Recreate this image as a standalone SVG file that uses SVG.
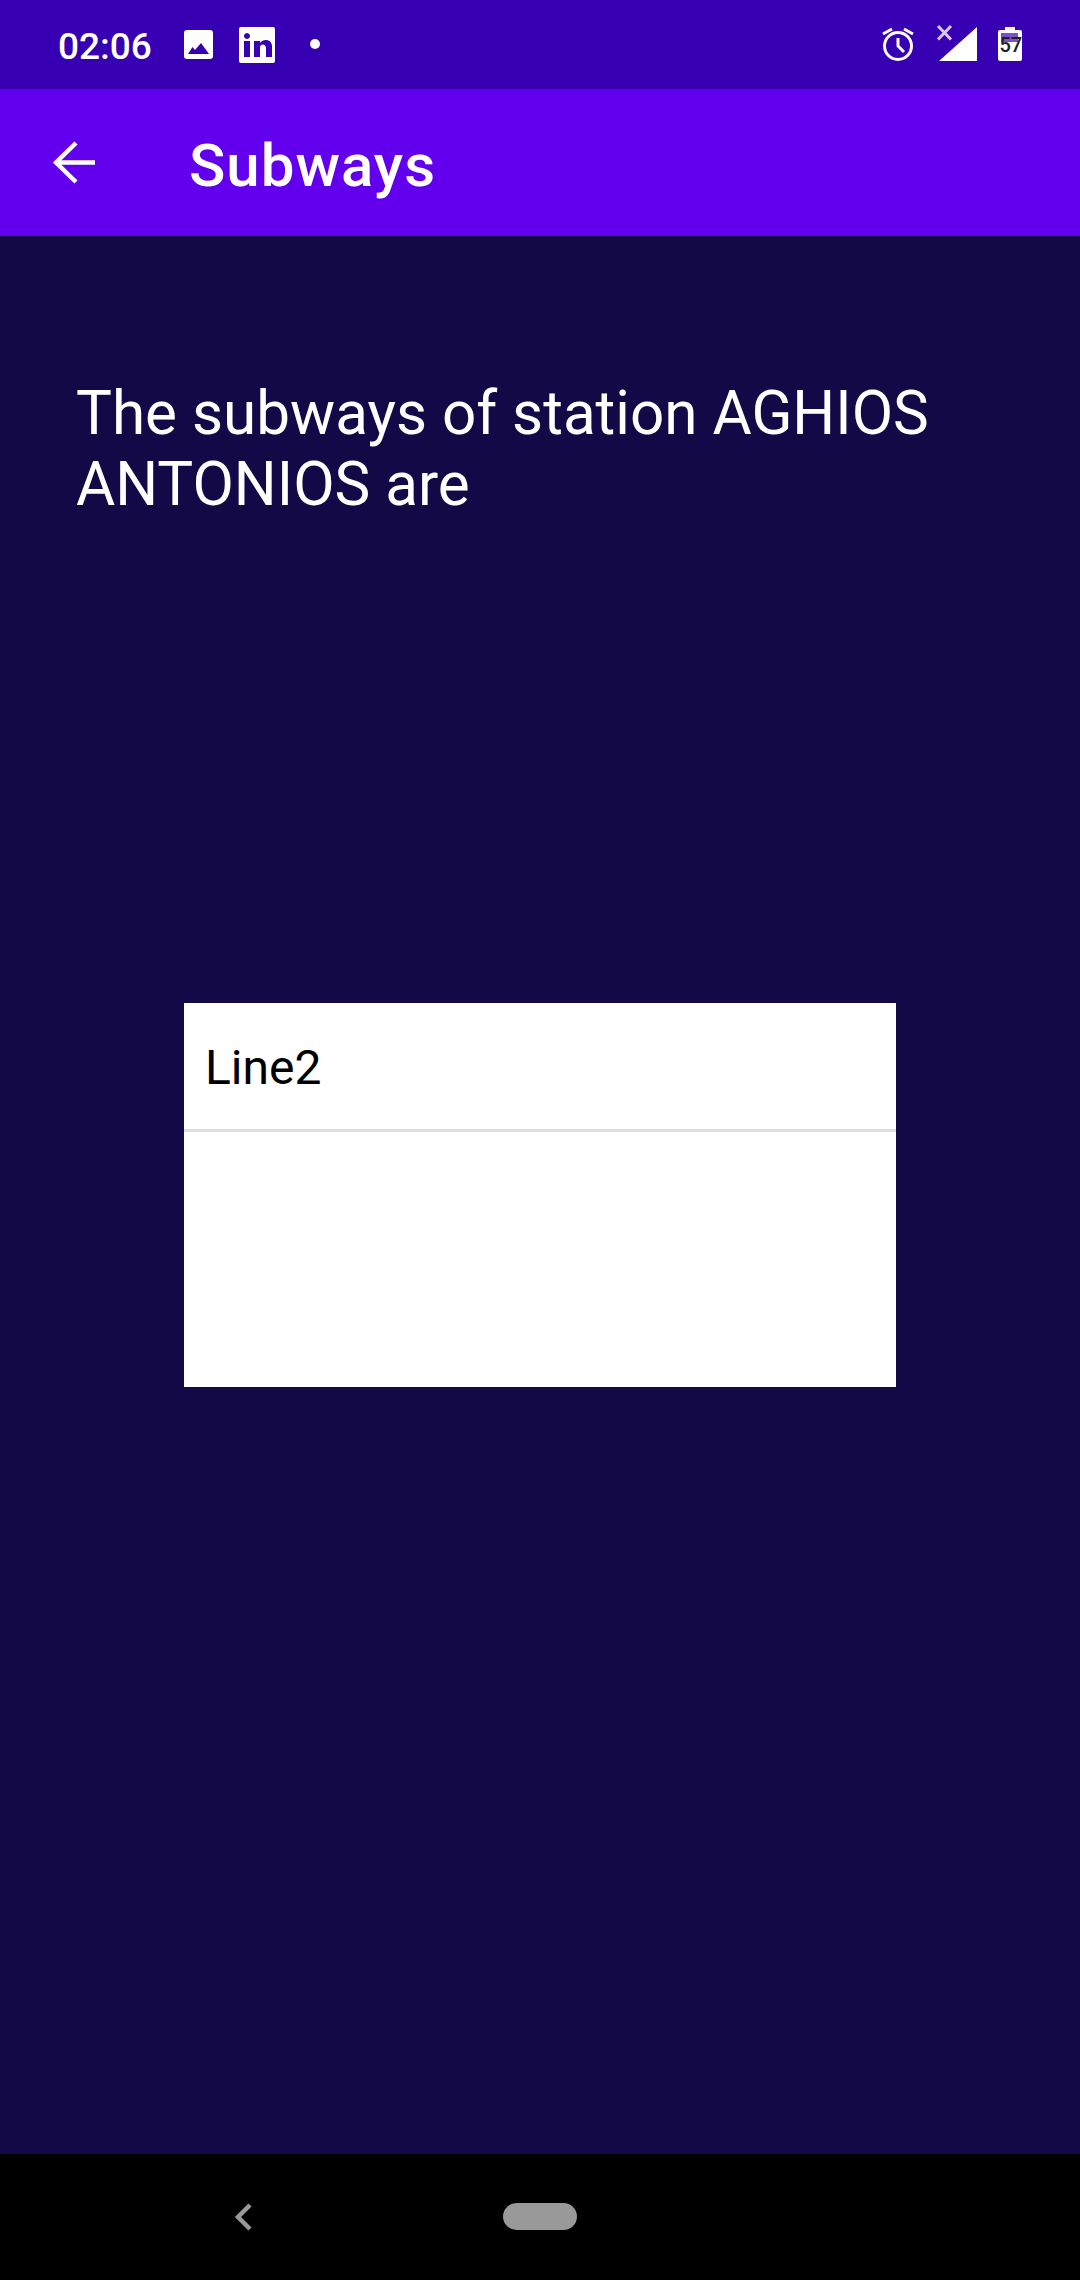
<svg xmlns="http://www.w3.org/2000/svg" width="1080" height="2280" viewBox="0 0 1080 2280">
<style>
text{font-family:Roboto,"Liberation Sans",sans-serif}
.w{fill:#fff}
.s{fill:none;stroke:#fff}
</style>
<rect id="background" width="1080" height="2280" fill="#140947"/>
<g id="status-bar">
<rect width="1080" height="89" fill="#3700b3"/>
<text class="w" x="58" y="59" font-size="37" font-weight="500">02:06</text>
<path id="image-icon" class="w" fill-rule="evenodd" d="M187 30H210a3 3 0 0 1 3 3V56a3 3 0 0 1-3 3H187a3 3 0 0 1-3-3V33a3 3 0 0 1 3-3ZM188 54H209L201 43 195 50 192.500 47Z"/>
<path id="linkedin-icon" class="w" fill-rule="evenodd" d="M241 27H273a2 2 0 0 1 2 2V61a2 2 0 0 1-2 2H241a2 2 0 0 1-2-2V29a2 2 0 0 1 2-2ZM244 41V57H250V41ZM247 33a3 3 0 1 0 .01 0ZM254 41V57H260V48C260 43 266 44 266 48V57H272V46C272 39 263 38 260 43V41Z"/>
<circle class="w" cx="315" cy="44" r="5"/>
<g id="alarm-icon">
<circle class="s" cx="898" cy="46" r="13.500" stroke-width="3"/>
<path class="s" stroke-width="3" d="M898 38V46L904 52M883 34L892 29M913 34L904 29"/>
</g>
<path style="fill:none;stroke:#d8c8f2" stroke-width="3" d="M938 26L951 39.500M951 26L938 39.500"/>
<path id="signal-icon" class="w" d="M977 27V61H939Z"/>
<g id="battery-icon">
<path class="w" d="M1005 30V27H1015V30H1020a2 2 0 0 1 2 2V59a2 2 0 0 1-2 2H1000a2 2 0 0 1-2-2V32a2 2 0 0 1 2-2Z"/>
<rect x="1001" y="33" width="17" height="9" fill="#7c4fcb"/>
<text x="999.500" y="52" font-size="20" font-weight="500" fill="#222">57</text>
</g>
</g>
<g id="app-bar">
<rect y="89" width="1080" height="147" fill="#6200ee"/>
<path id="back-arrow" class="s" stroke-width="4.500" d="M95 162.500H56M76 143L56 162.500L76 182"/>
<text class="w" x="189" y="186" font-size="60" font-weight="500" letter-spacing="1">Subways</text>
</g>
<g id="heading">
<text class="w" x="76" y="434" font-size="60.200">The subways of station AGHIOS</text>
<text class="w" x="76" y="505" font-size="60.200">ANTONIOS are</text>
</g>
<g id="list-card">
<rect x="184" y="1003" width="712" height="384" fill="#fff"/>
<rect x="184" y="1129" width="712" height="3" fill="#dedede"/>
<text x="205" y="1084" font-size="48" fill="#000">Line2</text>
</g>
<g id="nav-bar">
<rect y="2154" width="1080" height="126" fill="#000"/>
<path fill="none" stroke="#999" stroke-width="4.500" d="M250 2205L238 2217L250 2229"/>
<rect x="503" y="2203" width="74" height="27" rx="13.500" fill="#999"/>
</g>
</svg>
